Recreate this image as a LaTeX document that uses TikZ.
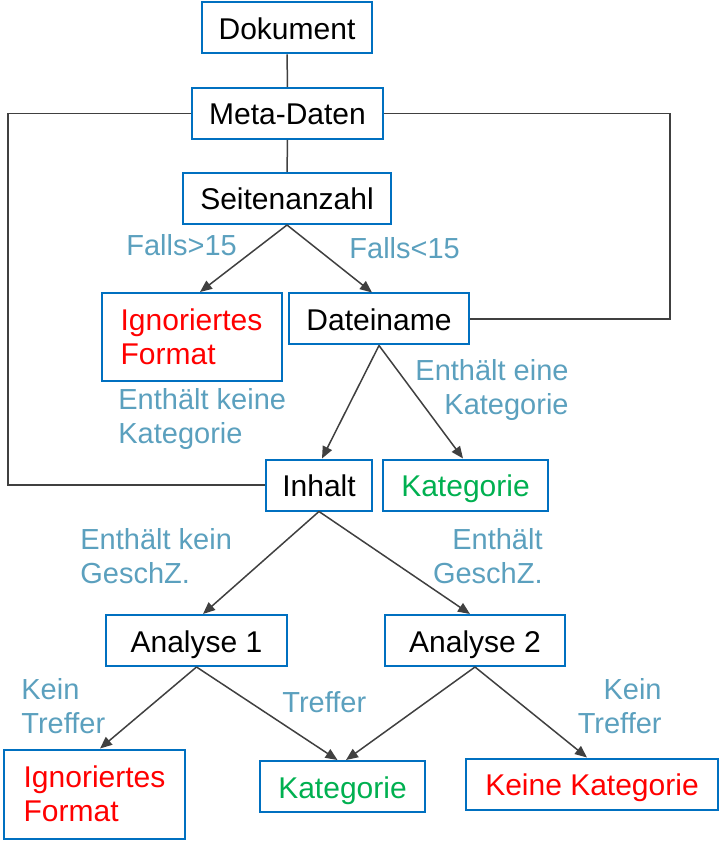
\documentclass[tikz,border=0pt]{standalone}
\usepackage{fontspec}
\setmainfont{Liberation Sans}
\usetikzlibrary{arrows.meta,positioning}
\definecolor{boxblue}{RGB}{0,112,192}
\definecolor{lblblue}{RGB}{91,160,190}
\definecolor{okgreen}{RGB}{0,176,80}
\definecolor{linegray}{RGB}{64,64,64}

\begin{document}
\begin{tikzpicture}[x=0.5pt, y=-0.5pt,
            stepbox/.style={draw=boxblue, line width=1pt, minimum height=25.5pt, inner sep=0pt, font=\fontsize{15}{17}\selectfont},
            onebox/.style={stepbox, text height=12pt, text depth=0.5pt},
            redbox/.style={stepbox, text=red, align=left},
            greenbox/.style={onebox, text=okgreen},
            cond/.style={text=lblblue, inner sep=0pt, font=\fontsize{14.5}{17}\selectfont},
            link/.style={draw=linegray, line width=0.75pt},
            flow/.style={link, -{Triangle[length=6pt,width=5pt]}},
          ]
          \useasboundingbox (0,0) rectangle (719,849);
          % boxes
          \node[onebox, minimum width=85pt] (dok) at (287,28) {Dokument};
          \node[onebox, minimum width=95.5pt] (meta) at (287.5,113.5) {Meta-Daten};
          \node[onebox, minimum width=104pt] (seiten) at (287,198.5) {Seitenanzahl};
          \node[redbox, minimum width=90pt, minimum height=44pt] (ign1) at (191.5,337) {Ignoriertes\\Format};
          \node[onebox, minimum width=90pt] (datei) at (379,319) {Dateiname};
          \node[onebox, minimum width=53pt] (inhalt) at (319,485) {Inhalt};
          \node[greenbox, minimum width=82.5pt] (kat1) at (465.5,485) {Kategorie};
          \node[onebox, minimum width=90.5pt] (ana1) at (196.5,640.5) {Analyse 1};
          \node[onebox, minimum width=90pt] (ana2) at (475,640.5) {Analyse 2};
          \node[redbox, minimum width=90.5pt, minimum height=44.5pt] (ign2) at (94.5,794) {Ignoriertes\\Format};
          \node[greenbox, minimum width=82.5pt] (kat2) at (342.5,786.5) {Kategorie};
          \node[onebox, text=red, minimum width=126pt] (keine) at (592,784) {Keine Kategorie};
          % straight links
          \draw[link] (dok) -- (meta);
          \draw[link] (meta) -- (seiten);
          \coordinate (lbend) at (8,485);
          \coordinate (rbend) at (670,319);
          \draw[link] (meta.west) -| (lbend) -- (inhalt.west);
          \draw[link] (meta.east) -| (rbend) -- (datei.east);
          % arrows
          \draw[flow] (seiten.south) -- ([xshift=4.25pt]ign1.north);
          \draw[flow] (seiten.south) -- ([xshift=-3.5pt]datei.north);
          \draw[flow] (datei.south) -- ([xshift=1.5pt]inhalt.north);
          \draw[flow] (datei.south) -- ([xshift=-1.25pt]kat1.north);
          \draw[flow] (inhalt.south) -- ([xshift=3.25pt]ana1.north);
          \draw[flow] (inhalt.south) -- ([xshift=-2.5pt]ana2.north);
          \draw[flow] (ana1.south) -- ([xshift=2.75pt]ign2.north);
          \draw[flow] (ana1.south) -- ([xshift=-2.5pt]kat2.north);
          \draw[flow] (ana2.south) -- ([xshift=1.75pt]kat2.north);
          \draw[flow] (ana2.south) -- ([xshift=-2.5pt]keine.north);
          % conditions
          \node[cond, anchor=west] (gt15) at (126,245) {Falls>15};
          \node[cond, anchor=west] (lt15) at (349,248) {Falls<15};
          \node[cond, anchor=west, align=left] (nokat) at (118,419) {Enthält keine\\Kategorie};
          \node[cond, anchor=east, align=right] (haskat) at (569,390) {Enthält eine\\Kategorie};
          \node[cond, anchor=west, align=left] (nogz) at (80,556) {Enthält kein\\GeschZ.};
          \node[cond, anchor=east, align=right] (hasgz) at (543,556) {Enthält\\GeschZ.};
          \node[cond, anchor=west, align=left] (miss1) at (21,706) {Kein\\Treffer};
          \node[cond, anchor=west] (hit) at (282,702) {Treffer};
          \node[cond, anchor=east, align=right] (miss2) at (662,706) {Kein\\Treffer};
        \end{tikzpicture}
\end{document}
